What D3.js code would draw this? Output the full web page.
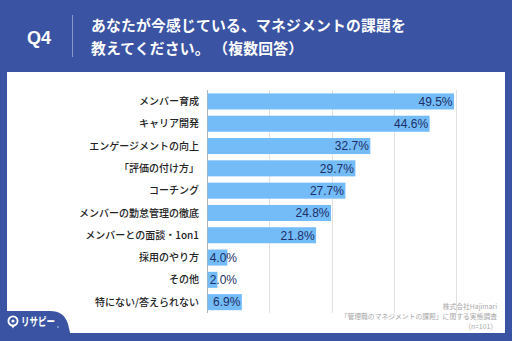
<!DOCTYPE html>
<html><head><meta charset="utf-8">
<script src="https://cdn.jsdelivr.net/npm/d3@7"></script>
<style>html,body{margin:0;padding:0;background:#3a54a3;}svg{display:block;}</style>
</head><body>
<script>
const categories = ["メンバー育成","キャリア開発","エンゲージメントの向上","「評価の付け方」","コーチング","メンバーの勤怠管理の徹底","メンバーとの面談・1on1","採用のやり方","その他","特にない/答えられない"];
const values = [49.5,44.6,32.7,29.7,27.7,24.8,21.8,4.0,2.0,6.9];
const gridTicks = [0,12.5,25,37.5,50];
const titleLines = ["あなたが今感じている、マネジメントの課題を","教えてください。 （複数回答）"];
const sourceLines = ["株式会社Hajimari","「管理職のマネジメントの課題」に関する実態調査","（n=101）"];

const W=512,H=341;
const svg=d3.select("body").append("svg").attr("width",W).attr("height",H);
const JP="'Noto Sans CJK JP','Noto Sans',sans-serif";
svg.append("rect").attr("width",W).attr("height",H).attr("fill","#3a54a3");
// header
svg.append("text").attr("x",27).attr("y",43.5).text("Q4").attr("fill","#fff")
  .attr("font-family","'Liberation Sans',Arial,sans-serif").attr("font-weight","bold").attr("font-size",18);
svg.append("line").attr("x1",72.5).attr("x2",72.5).attr("y1",15).attr("y2",57).attr("stroke","#8797cc").attr("stroke-width",1);
svg.selectAll("text.title").data(titleLines).join("text").attr("class","title")
  .attr("x",91).attr("y",(d,i)=>30.5+i*23.5).text(d=>d).attr("fill","#fff")
  .attr("font-family",JP).attr("font-weight","bold").attr("font-size",14.8)
  .attr("letter-spacing",0.2).attr("xml:space","preserve").style("white-space","pre");
// panel
svg.append("rect").attr("x",7).attr("y",72).attr("width",498).attr("height",261).attr("fill","#fff");

const x=d3.scaleLinear().domain([0,50]).range([207,456]);
const y=d3.scaleBand().domain(categories).range([90.3,313.3]).paddingInner(0.28).paddingOuter(0.14);

// grid
svg.selectAll("line.grid").data(gridTicks).join("line").attr("class","grid")
  .attr("x1",d=>Math.round(x(d))+0.5).attr("x2",d=>Math.round(x(d))+0.5)
  .attr("y1",90).attr("y2",313)
  .attr("stroke",d=>d===0?"#b5b5b5":"#e2e2e2").attr("stroke-width",1);

// bars
svg.selectAll("rect.bar").data(values).join("rect").attr("class","bar")
  .attr("x",x(0)+0.5).attr("y",(d,i)=>y(categories[i]))
  .attr("width",d=>x(d)-x(0)).attr("height",y.bandwidth())
  .attr("fill","#74bcf8");

// category labels
svg.selectAll("text.cat").data(categories).join("text").attr("class","cat")
  .attr("x",199).attr("y",d=>y(d)+y.bandwidth()/2).attr("dy","0.36em")
  .attr("text-anchor","end").text(d=>d).attr("fill","#222")
  .attr("font-family",JP).attr("font-weight",500).attr("font-size",10);

// value labels
svg.selectAll("text.val").data(values).join("text").attr("class","val")
  .attr("x",d=>Math.max(x(d)-1,237)).attr("y",(d,i)=>y(categories[i])+y.bandwidth()/2).attr("dy","0.36em")
  .attr("text-anchor","end").text(d=>d.toFixed(1)+"%").attr("fill","#1d2f66")
  .attr("font-family","'Liberation Sans',Arial,sans-serif").attr("font-size",12);

// source
svg.selectAll("text.src").data(sourceLines).join("text").attr("class","src")
  .attr("x",497).attr("y",(d,i)=>308.5+i*10.3).attr("text-anchor","end").text(d=>d)
  .attr("fill","#a8a8a8").attr("font-family",JP).attr("font-size",6.8);

// bottom-left tab
svg.append("path").attr("d","M0,311 L50,311 Q64,311 68,324 L72,341 L0,341 Z").attr("fill","#3a54a3");
// logo
const lg=svg.append("g").attr("transform","translate(13,321)");
lg.append("circle").attr("r",4.6).attr("fill","none").attr("stroke","#fff").attr("stroke-width",1.8);
lg.append("circle").attr("r",1.6).attr("fill","#fff");
lg.append("path").attr("d","M-2,4 L0,7.5 L2,4 Z").attr("fill","#fff");
svg.append("text").attr("x",21).attr("y",326).text("リサピー").attr("fill","#fff")
  .attr("font-family",JP).attr("font-weight","bold").attr("font-size",11.5)
  .attr("textLength",34).attr("lengthAdjust","spacingAndGlyphs");
svg.append("circle").attr("cx",58).attr("cy",327).attr("r",0.8).attr("fill","#cfd6ee");
</script>
</body></html>
